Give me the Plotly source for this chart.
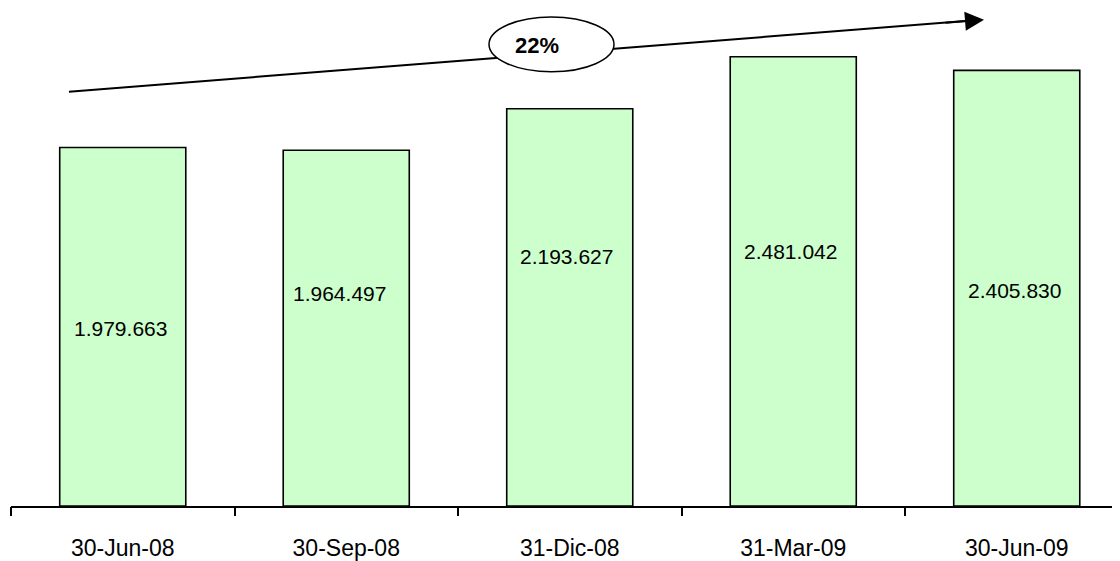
import plotly.graph_objects as go

categories = ["30-Jun-08", "30-Sep-08", "31-Dic-08", "31-Mar-09", "30-Jun-09"]
values = [1979663, 1964497, 2193627, 2481042, 2405830]
value_labels = ["1.979.663", "1.964.497", "2.193.627", "2.481.042", "2.405.830"]
growth_label = "22%"

# label placement (data units / pixel shifts)
label_y = [979000, 1171500, 1380500, 1408000, 1188000]
label_xshift = [-2, -7, -3, -3, -2]

FONT = "Liberation Sans, Arial, sans-serif"

PAGE_OFF = 8  # browser body margin
W, H = 1120 - PAGE_OFF, 561 - PAGE_OFF
AXIS_Y = 508  # page pixel of the x axis line
L, R, T = 11 - PAGE_OFF, 0, 0
B = H - (AXIS_Y - PAGE_OFF)
plot_w = W - L - R
plot_h = H - T - B
cat_px = 223.5
y_top = plot_h * 5500


def px(x):
    return (x - 11) / plot_w


def py(y):
    return (AXIS_Y - y) / plot_h


fig = go.Figure()
fig.add_trace(go.Bar(
    x=list(range(len(categories))), y=values,
    width=0.564,
    marker=dict(color="#CCFFCC", line=dict(color="black", width=1.6)),
    hoverinfo="skip",
))

for i, (lab, ly, xs) in enumerate(zip(value_labels, label_y, label_xshift)):
    fig.add_annotation(x=i, y=ly, text=lab, showarrow=False, xshift=xs,
                       xanchor="center", yanchor="middle",
                       font=dict(family=FONT, size=21, color="black"))


def line_y(x):
    return 92 - (92 - 19.3) / (989 - 69) * (x - 69)


# trend line (two segments, broken by the ellipse)
fig.add_shape(type="line", xref="paper", yref="paper",
              x0=px(69), y0=py(92), x1=px(499), y1=py(line_y(499)),
              line=dict(color="black", width=2))
fig.add_shape(type="line", xref="paper", yref="paper",
              x0=px(611), y0=py(line_y(611)), x1=px(978), y1=py(line_y(978)),
              line=dict(color="black", width=2))
# ellipse
fig.add_shape(type="circle", xref="paper", yref="paper",
              x0=px(489), x1=px(614), y0=py(72), y1=py(17),
              line=dict(color="black", width=1.5), fillcolor="white")
# arrow head
fig.add_annotation(xref="paper", yref="paper", x=px(984), y=py(line_y(984)),
                   axref="pixel", ayref="pixel", ax=-40, ay=3.2,
                   showarrow=True, arrowhead=2, arrowsize=1.9, arrowwidth=2,
                   arrowcolor="black", text="")
fig.add_annotation(xref="paper", yref="paper", x=px(536.5), y=py(46),
                   xanchor="center", yanchor="middle",
                   text="<b>" + growth_label + "</b>", showarrow=False,
                   font=dict(family=FONT, size=22, color="black"))

fig.update_layout(
    width=W, height=H,
    margin=dict(l=L, r=R, t=T, b=B, pad=0),
    paper_bgcolor="white", plot_bgcolor="white",
    showlegend=False,
    xaxis=dict(
        tickmode="array", tickvals=list(range(len(categories))), ticktext=categories,
        range=[-0.5, -0.5 + plot_w / cat_px],
        showgrid=False, zeroline=False,
        showline=True, linecolor="black", linewidth=1.5,
        ticks="",
        tickfont=dict(family=FONT, size=23, color="black"),
        ticklabelstandoff=21,
    ),
    yaxis=dict(range=[0, y_top], visible=False, fixedrange=True),
)

# boundary ticks drawn on a second axis
fig.add_trace(go.Scatter(x=[], y=[], xaxis="x2"))
fig.update_layout(xaxis2=dict(
    overlaying="x", side="bottom", anchor="y",
    range=[-0.5, -0.5 + plot_w / cat_px],
    tickmode="array", tickvals=[i - 0.5 for i in range(len(categories) + 1)],
    ticks="outside", ticklen=9, tickwidth=1.5, tickcolor="black",
    showticklabels=False, showgrid=False, zeroline=False, showline=False,
))

fig.write_html("out.html")
